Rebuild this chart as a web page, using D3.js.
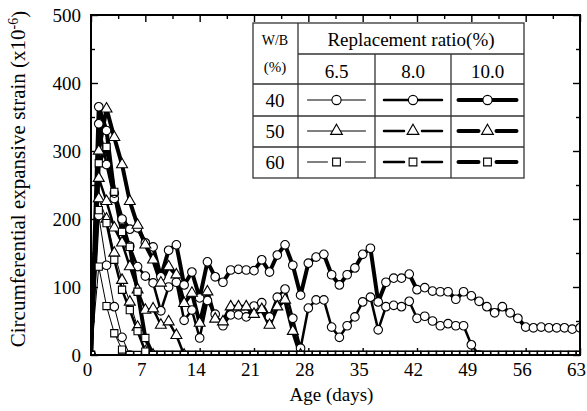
<!DOCTYPE html>
<html lang="en">
<head>
<meta charset="utf-8">
<title>Circumferential expansive strain</title>
<style>
body { margin:0; background:#fff; }
svg { display:block; }
text { font-family:'Liberation Serif','DejaVu Serif',serif; }
.axis text { font-size:19px; fill:#000; }
.axis line { stroke:#000; stroke-width:1.4; }
.axis .domain { display:none; }
.grid { stroke:#333; stroke-width:1.3; fill:none; }
.ltext { font-size:19px; fill:#000; text-anchor:middle; }
</style>
</head>
<body>
<svg id="chart" width="587" height="411"></svg>
<script src="https://cdn.jsdelivr.net/npm/d3@7"></script>
<script>
// age in days
var days = [0,1,2,3,4,5,6,7,8,9,10,11,12,13,14,15,16,17,18,19,20,21,22,23,24,25,26,27,28,29,30,31,
  32,33,34,35,36,37,38,39,40,41,42,43,44,45,46,47,48,49,50,51,52,53,54,55,56,57,58,59,60,61,62,63];

// W/B 40 % (series end where they fall back to zero)
var s40_65 = [0,205,132,71,26,0];
var s40_80 = [0,340,280,230,198,160,130,116, 106,65,100,107,51,66,25,80, 60,43,59,59,56,72,77,56,
  85,97,54,10,69,81,81,41, 26,43,56,78,85,37,71,73, 71,79,54,57,50,43,46,43, 43,15,0];
var s40_100 = [0,365,330,238,200,185,187,165, 159,115,154,162,103,122,84,137, 115,107,125,126,125,124,140,122,
  147,162,132,88,135,144,148,118, 103,118,128,148,157,78,107,113, 113,119,96,99,94,93,93,82,
  93,87,79,71,62,71,62,54, 41,40,41,40,40,40,38,40];

// W/B 50 %
var s50_65 = [0,230,200,150,110,78,41,5,0];
var s50_80 = [0,260,226,187,165,130,96,66, 68,44,49,29,0];
var s50_100 = [0,300,362,320,280,226,191,162, 140,106,130,118,76,91,47,93, 53,49,71,71,71,60,67,44,
  71,81,35,0];

// W/B 60 % (square markers stay on the zero line up to day 63)
var s60_65 = [0,130,72,32,8,0,0,0, 0,0,0,0,0,0,0,0, 0,0,0,0,0,0,0,0, 0,0,0,0,0,0,0,0,
  0,0,0,0,0,0,0,0, 0,0,0,0,0,0,0,0, 0,0,0,0,0,0,0,0, 0,0,0,0,0,0,0,0];
var s60_80 = [0,213,194,140,96,66,35,5, 0,0,0,0,0,0,0,0, 0,0,0,0,0,0,0,0, 0,0,0,0,0,0,0,0,
  0,0,0,0,0,0,0,0, 0,0,0,0,0,0,0,0, 0,0,0,0,0,0,0,0, 0,0,0,0,0,0,0,0];
var s60_100 = [0,282,306,240,181,159,93,25, 0,0,0,0,0,0,0,0, 0,0,0,0,0,0,0,0, 0,0,0,0,0,0,0,0,
  0,0,0,0,0,0,0,0, 0,0,0,0,0,0,0,0, 0,0,0,0,0,0,0,0, 0,0,0,0,0,0,0,0];

var xTicks = [0,7,14,21,28,35,42,49,56,63];
var yTicks = [0,100,200,300,400,500];
var wbRows = ["40","50","60"];
var ratioCols = ["6.5","8.0","10.0"];

// line width per replacement ratio, marker per W/B
var widths = {"6.5":1, "8.0":2.5, "10.0":4};
var markers = {"40":d3.symbolCircle, "50":d3.symbolTriangle, "60":d3.symbolSquare};
var msize = {"40":58, "50":52, "60":52};

var series = [
  {wb:"40", r:"6.5", v:s40_65}, {wb:"40", r:"8.0", v:s40_80}, {wb:"40", r:"10.0", v:s40_100},
  {wb:"50", r:"6.5", v:s50_65}, {wb:"50", r:"8.0", v:s50_80}, {wb:"50", r:"10.0", v:s50_100},
  {wb:"60", r:"6.5", v:s60_65}, {wb:"60", r:"8.0", v:s60_80}, {wb:"60", r:"10.0", v:s60_100}
];

var svg = d3.select("#chart");
var margin = {left:91, right:7, top:15, bottom:56};
var width = 587 - margin.left - margin.right,
    height = 411 - margin.top - margin.bottom;

var x = d3.scaleLinear().domain([0,63]).range([0,width]);
var y = d3.scaleLinear().domain([0,500]).range([height,0]);

var g = svg.append("g").attr("transform","translate(" + margin.left + "," + margin.top + ")");

g.append("clipPath").attr("id","plotclip")
  .append("rect").attr("x",0).attr("y",0).attr("width",width).attr("height",height);

// axes, ticks pointing inward
var minorX = [3.5,10.5,17.5,24.5,31.5,38.5,45.5,52.5,59.5];
var minorY = [50,150,250,350,450];
var xa = g.append("g").attr("class","axis").attr("transform","translate(0," + height + ")")
  .call(d3.axisBottom(x).tickValues(xTicks).tickSize(-7).tickSizeOuter(0).tickPadding(8));
xa.selectAll("text").attr("dx", -4);
g.append("g").attr("class","axis").attr("transform","translate(0," + height + ")")
  .call(d3.axisBottom(x).tickValues(minorX).tickSize(-4).tickSizeOuter(0).tickFormat(""));
g.append("g").attr("class","axis")
  .call(d3.axisTop(x).tickValues(xTicks).tickSize(-7).tickSizeOuter(0).tickFormat(""));
g.append("g").attr("class","axis")
  .call(d3.axisTop(x).tickValues(minorX).tickSize(-4).tickSizeOuter(0).tickFormat(""));
g.append("g").attr("class","axis")
  .call(d3.axisLeft(y).tickValues(yTicks).tickSize(-7).tickSizeOuter(0).tickPadding(10));
g.append("g").attr("class","axis")
  .call(d3.axisLeft(y).tickValues(minorY).tickSize(-4).tickSizeOuter(0).tickFormat(""));
g.append("g").attr("class","axis").attr("transform","translate(" + width + ",0)")
  .call(d3.axisRight(y).tickValues(yTicks).tickSize(-7).tickSizeOuter(0).tickFormat(""));
g.append("g").attr("class","axis").attr("transform","translate(" + width + ",0)")
  .call(d3.axisRight(y).tickValues(minorY).tickSize(-4).tickSizeOuter(0).tickFormat(""));

// data
var plot = g.append("g").attr("clip-path","url(#plotclip)");
var line = d3.line().x(function(d){ return x(d.day); }).y(function(d){ return y(d.v); });

series.forEach(function(s){
  s.pts = s.v.map(function(v,i){ return {day:days[i], v:v}; });
});

plot.selectAll("path.ser").data(series).enter().append("path")
  .attr("class","ser")
  .attr("d", function(s){ return line(s.pts); })
  .attr("fill","none").attr("stroke","#000")
  .attr("stroke-width", function(s){ return widths[s.r]; })
  .attr("stroke-linejoin","round");

series.forEach(function(s){
  var sym = d3.symbol().type(markers[s.wb]).size(msize[s.wb]);
  plot.append("g").selectAll("path").data(s.pts).enter().append("path")
    .attr("d", sym)
    .attr("transform", function(d){ return "translate(" + x(d.day) + "," + y(d.v) + ")"; })
    .attr("fill","#fff").attr("stroke","#000").attr("stroke-width",1.1);
});

// frame
g.append("rect").attr("width",width).attr("height",height)
  .attr("fill","none").attr("stroke","#000").attr("stroke-width",2);

// axis titles
svg.append("text").attr("class","ltext")
  .attr("x", margin.left + width/2 - 4).attr("y", 401).text("Age (days)");

var yt = svg.append("text").attr("class","ltext").style("font-size","21px")
  .attr("transform","translate(18,179) rotate(-90)").attr("dy","0.35em");
yt.append("tspan").text("Circumferential expansive strain (x10");
yt.append("tspan").attr("dy","-0.55em").style("font-size","14px").text("-6");
yt.append("tspan").attr("dy","0.4em").text(")");

// legend table
var L = {x0:253, x1:524, y0:23, y1:178};
var cx = [298,375,451];
var ry = [54,84,116,147];
var lg = svg.append("g");
lg.append("rect").attr("class","grid").attr("x",L.x0).attr("y",L.y0)
  .attr("width",L.x1-L.x0).attr("height",L.y1-L.y0);
cx.forEach(function(c,i){
  lg.append("line").attr("class","grid").attr("x1",c).attr("x2",c)
    .attr("y1", i==0 ? L.y0 : ry[0]).attr("y2",L.y1);
});
ry.forEach(function(r,i){
  lg.append("line").attr("class","grid").attr("x1", i==0 ? cx[0] : L.x0).attr("x2",L.x1)
    .attr("y1",r).attr("y2",r);
});

lg.append("text").attr("class","ltext").attr("x",275).attr("y",45).style("font-size","14px").text("W/B");
lg.append("text").attr("class","ltext").attr("x",275).attr("y",72).style("font-size","15px").text("(%)");
lg.append("text").attr("class","ltext").attr("x",411).attr("y",46).text("Replacement ratio(%)");

var colMid = [336.5, 413, 487.5];
ratioCols.forEach(function(c,i){
  lg.append("text").attr("class","ltext").attr("x",colMid[i]).attr("y",78).text(c);
});
var rowMid = [100, 131, 162];
wbRows.forEach(function(w,j){
  lg.append("text").attr("class","ltext").attr("x",275).attr("y",rowMid[j]+7).text(w);
  ratioCols.forEach(function(c,i){
    var m = colMid[i], half = 29;
    // broken line around the marker for these styles
    var gap = (w=="60" || (w=="50" && c!="6.5")) ? 9 : 0;
    lg.append("line").attr("x1",m-half).attr("x2",m-gap).attr("y1",rowMid[j]).attr("y2",rowMid[j])
      .attr("stroke","#000").attr("stroke-width",widths[c]).attr("stroke-linecap","round");
    lg.append("line").attr("x1",m+gap).attr("x2",m+half).attr("y1",rowMid[j]).attr("y2",rowMid[j])
      .attr("stroke","#000").attr("stroke-width",widths[c]).attr("stroke-linecap","round");
    lg.append("path").attr("d", d3.symbol().type(markers[w]).size(msize[w]+8)())
      .attr("transform","translate(" + m + "," + rowMid[j] + ")")
      .attr("fill","#fff").attr("stroke","#000").attr("stroke-width",1.1);
  });
});
</script>
</body>
</html>
